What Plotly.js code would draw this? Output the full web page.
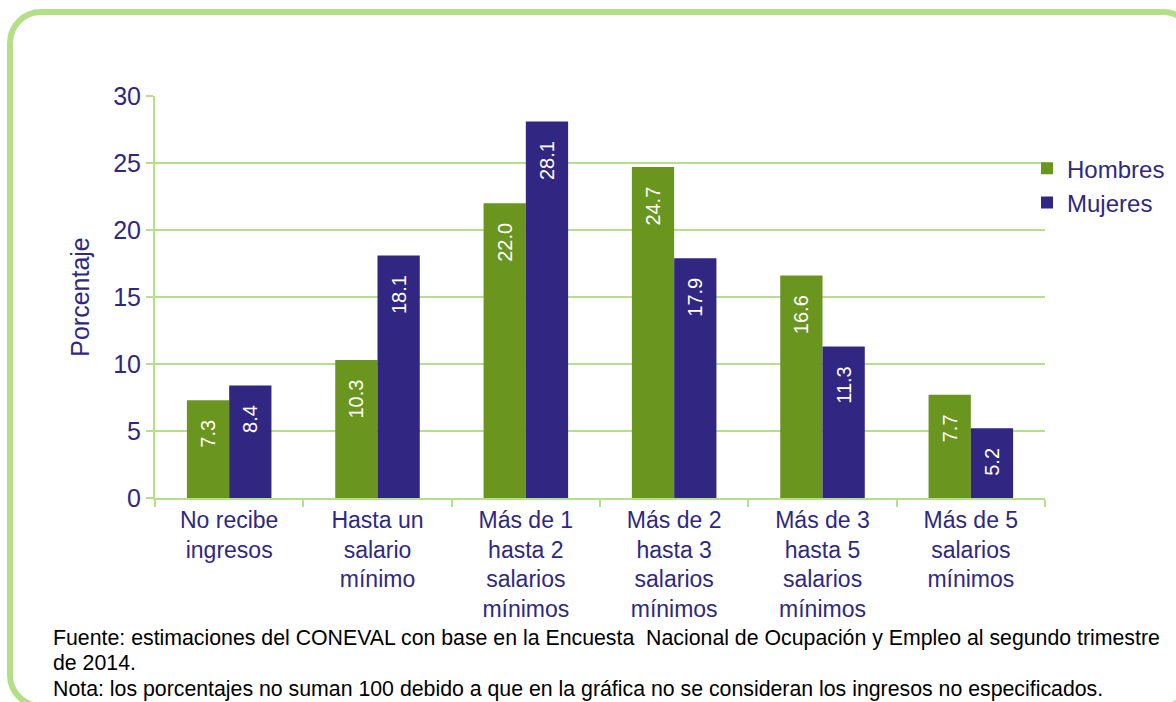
<!DOCTYPE html>
<html>
<head>
<meta charset="utf-8">
<script src="https://cdn.plot.ly/plotly-3.0.1.min.js"></script>
<style>
html,body{margin:0;padding:0;background:#fff;overflow:hidden;}
#wrap{position:relative;width:1176px;height:702px;}
#chart{position:absolute;left:0;top:0;width:1176px;height:702px;}
#frame{position:absolute;left:7px;top:9px;width:1190px;height:700px;border:6px solid #b3df87;border-radius:34px;box-sizing:border-box;pointer-events:none;}
</style>
</head>
<body>
<div id="wrap">
<div id="chart"></div>
<div id="frame"></div>
</div>
<script>
const categories = [
  'No recibe<br>ingresos',
  'Hasta un<br>salario<br>mínimo',
  'Más de 1<br>hasta 2<br>salarios<br>mínimos',
  'Más de 2<br>hasta 3<br>salarios<br>mínimos',
  'Más de 3<br>hasta 5<br>salarios<br>mínimos',
  'Más de 5<br>salarios<br>mínimos'
];
const hombres = [7.3, 10.3, 22.0, 24.7, 16.6, 7.7];
const mujeres = [8.4, 18.1, 28.1, 17.9, 11.3, 5.2];
const yTicks = [0, 5, 10, 15, 20, 25, 30];
const seriesNames = ['Hombres', 'Mujeres'];
const footer = [
  'Fuente: estimaciones del CONEVAL con base en la Encuesta  Nacional de Ocupación y Empleo al segundo trimestre',
  'de 2014.',
  'Nota: los porcentajes no suman 100 debido a que en la gráfica no se consideran los ingresos no especificados.'
];

const textColor = '#2e2883';
const gridColor = '#b5e08a';
const barColors = ['#6a961f', '#312783'];
const FONT = 'Arial, "Liberation Sans", sans-serif';

function barTrace(name, vals, color) {
  return {
    type: 'bar', name: name, x: categories, y: vals,
    marker: {color: color, line: {width: 0}},
    texttemplate: '%{y:.1f}\u00a0\u00a0\u00a0',
    textposition: 'inside', insidetextanchor: 'end', textangle: -90,
    insidetextfont: {color: '#ffffff', size: 20, family: FONT},
    constraintext: 'none',
    hoverinfo: 'x+y'
  };
}

const data = [
  barTrace(seriesNames[0], hombres, barColors[0]),
  barTrace(seriesNames[1], mujeres, barColors[1])
];

const footerY = [638, 663, 689];
const annotations = footer.map((t, i) => ({
  text: t, xref: 'paper', yref: 'paper',
  x: (51 - 155) / 890, y: (498 - footerY[i]) / 402,
  xanchor: 'left', yanchor: 'middle', showarrow: false, align: 'left',
  font: {family: FONT, size: 21.3, color: '#000000'}
}));

const layout = {
  width: 1176, height: 702,
  margin: {l: 155, r: 131, t: 96, b: 204, autoexpand: false},
  paper_bgcolor: 'rgba(0,0,0,0)', plot_bgcolor: 'rgba(0,0,0,0)',
  font: {family: FONT, color: textColor},
  barmode: 'group', bargap: 0.43, bargroupgap: 0,
  showlegend: true,
  legend: {x: 0.9798, xanchor: 'left', y: 0.875, yanchor: 'top',
    font: {size: 24, color: textColor, family: FONT},
    itemwidth: 30, tracegroupgap: 0, bgcolor: 'rgba(0,0,0,0)'},
  xaxis: {
    type: 'category', showgrid: false, showline: true, linecolor: gridColor, linewidth: 2,
    ticks: 'outside', tickson: 'boundaries', ticklen: 7, tickcolor: gridColor, tickwidth: 2,
    tickfont: {size: 23, color: textColor, family: FONT}, automargin: false
  },
  yaxis: {
    range: [0, 30], tickvals: yTicks, showgrid: true, gridcolor: gridColor, gridwidth: 2,
    showline: true, linecolor: gridColor, linewidth: 2, zeroline: false,
    ticks: 'outside', ticklen: 7, tickcolor: gridColor, tickwidth: 2,
    tickfont: {size: 25, color: textColor, family: FONT}, automargin: false,
    title: {text: 'Porcentaje', font: {size: 25, color: textColor, family: FONT}, standoff: 16}
  },
  annotations: annotations
};

Plotly.newPlot('chart', data, layout, {displayModeBar: false, staticPlot: true});
</script>
</body>
</html>
